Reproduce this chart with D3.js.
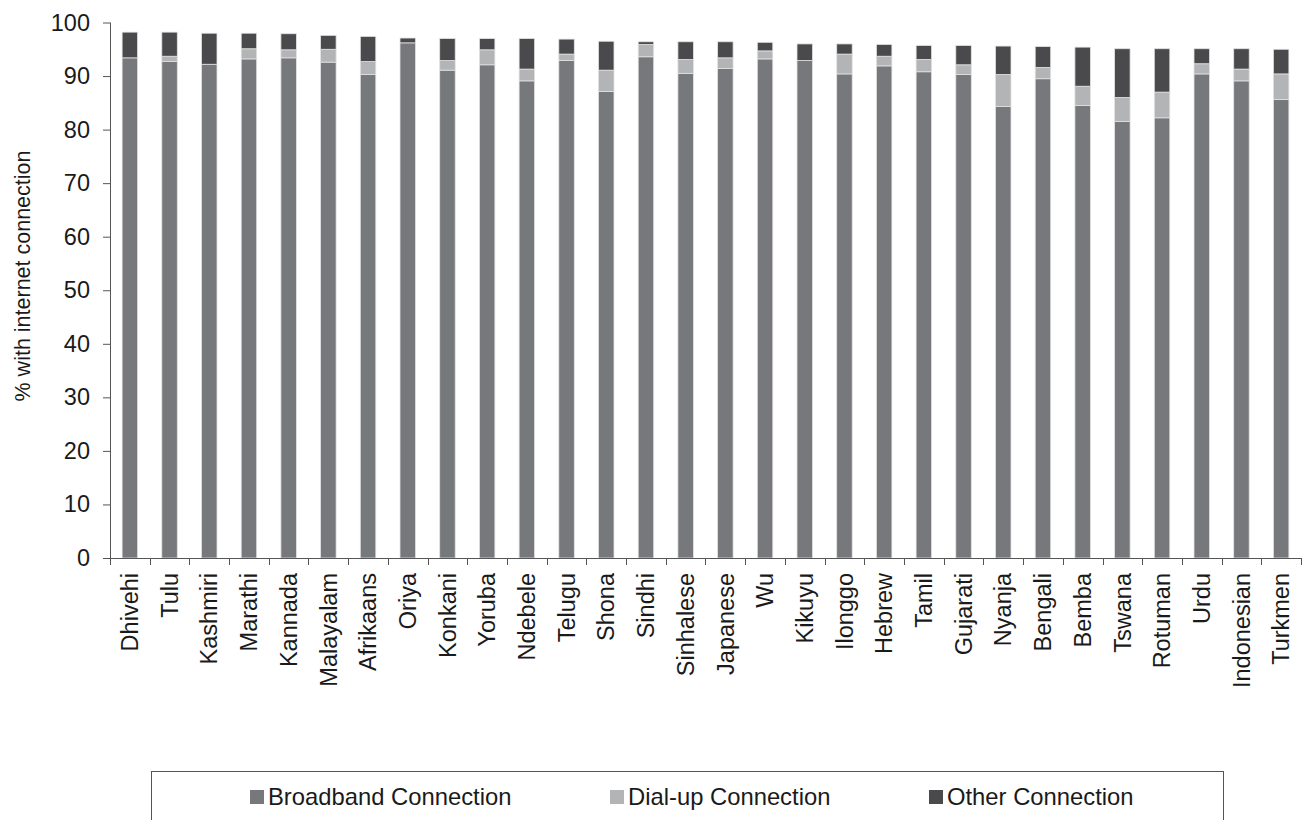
<!DOCTYPE html>
<html>
<head>
<meta charset="utf-8">
<script src="https://cdn.jsdelivr.net/npm/d3@7"></script>
<style>
  html, body { margin: 0; padding: 0; background: #fff; }
  svg { display: block; font-family: "Liberation Sans", Arial, sans-serif; }
</style>
</head>
<body>
<svg id="chart" width="1303" height="820"></svg>
<script>
const categories = ["Dhivehi","Tulu","Kashmiri","Marathi","Kannada","Malayalam","Afrikaans","Oriya","Konkani","Yoruba","Ndebele","Telugu","Shona","Sindhi","Sinhalese","Japanese","Wu","Kikuyu","Ilonggo","Hebrew","Tamil","Gujarati","Nyanja","Bengali","Bemba","Tswana","Rotuman","Urdu","Indonesian","Turkmen"];
const broadband = [93.4,92.7,92.2,93.2,93.4,92.6,90.3,96.2,91.1,92.1,89.1,92.9,87.1,93.6,90.5,91.4,93.2,92.9,90.4,91.9,90.8,90.3,84.3,89.5,84.5,81.5,82.2,90.4,89.1,85.6];
const dialup    = [0.0,1.0,0.0,1.9,1.5,2.4,2.4,0.0,1.8,2.8,2.2,1.2,4.0,2.3,2.6,2.0,1.5,0.0,3.7,1.8,2.3,1.8,6.0,2.1,3.6,4.5,4.8,1.9,2.2,4.8];
const other     = [4.8,4.5,5.8,2.9,3.0,2.6,4.7,0.9,4.1,2.1,5.7,2.8,5.4,0.5,3.3,3.0,1.6,3.1,1.9,2.2,2.6,3.6,5.3,3.9,7.3,9.1,8.1,2.8,3.8,4.6];
const seriesNames = ["Broadband Connection","Dial-up Connection","Other Connection"];
const seriesColors = ["#77787b","#b3b4b6","#4a4a4c"];
const yTicks = [0,10,20,30,40,50,60,70,80,90,100];

(function () {
const svg = d3.select("#chart");
const pLeft = 110, pRight = 1301, pTop = 22.5, pBottom = 558;
const fontSize = 23.5;
const textColor = "#1a1a1a";

const rows = categories.map((c, i) => ({cat: c, b: broadband[i], d: dialup[i], o: other[i]}));
const stacked = d3.stack().keys(["b","d","o"])(rows);

const inner = 0.61;
const x = d3.scaleBand().domain(categories).range([pLeft, pRight]).paddingInner(inner).paddingOuter(inner/2);
const y = d3.scaleLinear().domain([0,100]).range([pBottom, pTop]);

// bars
const g = svg.append("g");
stacked.forEach((layer, si) => {
  g.append("g").selectAll("rect").data(layer).join("rect")
    .attr("x", d => x(d.data.cat))
    .attr("width", x.bandwidth())
    .attr("y", d => y(d[1]))
    .attr("height", d => Math.max(0, y(d[0]) - y(d[1])))
    .attr("fill", seriesColors[si])
    .attr("stroke", d => (d[1]-d[0]) > 0 ? "#e2e2e2" : "none")
    .attr("stroke-width", 0.8);
});

// y axis
const yAxis = d3.axisLeft(y).tickValues(yTicks).tickSize(7).tickPadding(13).tickFormat(d3.format("d"));
const ya = svg.append("g").attr("transform", `translate(${pLeft},0)`).call(yAxis);
ya.select(".domain").attr("stroke", "#555").attr("d", `M0.5,${pBottom}V${pTop}`);
ya.selectAll(".tick line").attr("stroke", "#555");
ya.selectAll(".tick text").attr("font-size", fontSize).attr("fill", textColor).attr("font-family", "Liberation Sans, Arial, sans-serif");

// x axis
const xa = svg.append("g").attr("transform", `translate(0,${pBottom})`);
xa.append("line").attr("x1", pLeft).attr("x2", pRight).attr("y1", 0.5).attr("y2", 0.5).attr("stroke", "#555");
const step = x.step();
const boundaries = categories.map(c => x(c) - step * inner / 2).concat([pRight]);
xa.selectAll("line.tk").data(boundaries).join("line").attr("class","tk")
  .attr("x1", d => Math.round(d) + 0.5).attr("x2", d => Math.round(d) + 0.5)
  .attr("y1", 0).attr("y2", 7).attr("stroke", "#555");
xa.selectAll("text").data(categories).join("text")
  .attr("transform", d => `translate(${x(d) + x.bandwidth()/2},15) rotate(-90)`)
  .attr("text-anchor", "end")
  .attr("dy", "0.35em")
  .attr("font-size", fontSize)
  .attr("fill", textColor)
  .text(d => d);

// y title
svg.append("text")
  .attr("transform", `translate(30,276) rotate(-90)`)
  .attr("text-anchor", "middle")
  .attr("font-size", 21.5)
  .attr("fill", textColor)
  .text("% with internet connection");

// legend
const lg = svg.append("g");
lg.append("rect").attr("x", 151.5).attr("y", 771.5).attr("width", 1072).attr("height", 80)
  .attr("fill", "none").attr("stroke", "#555");
const legendX = [250, 610, 929];
seriesNames.forEach((n, i) => {
  lg.append("rect").attr("x", legendX[i]).attr("y", 790).attr("width", 14).attr("height", 14).attr("fill", seriesColors[i]);
  lg.append("text").attr("x", legendX[i] + 18).attr("y", 805).attr("font-size", 23.8).attr("fill", textColor).text(n);
});
})();
</script>
</body>
</html>
